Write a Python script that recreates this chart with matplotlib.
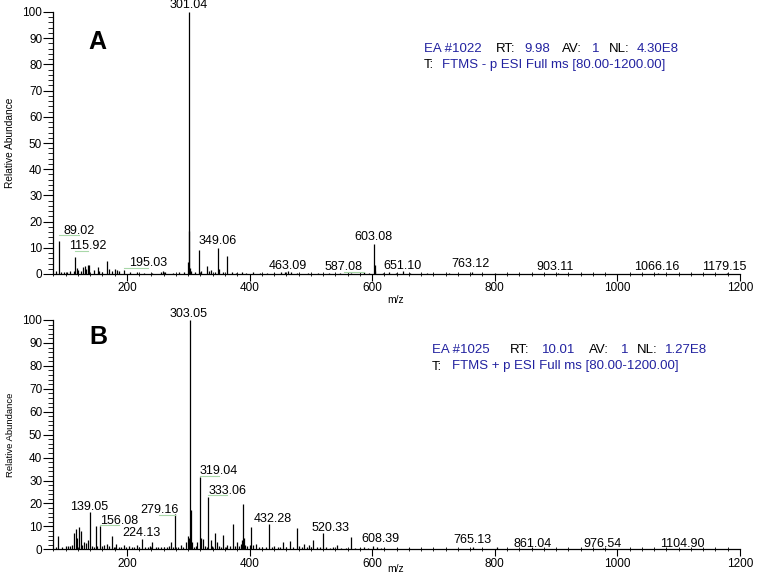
import numpy as np
import matplotlib
matplotlib.use('Agg')
import matplotlib.pyplot as plt
from matplotlib.ticker import MultipleLocator

plt.rcParams['font.family'] = ['Liberation Sans', 'DejaVu Sans']

# ---- panel A : negative ion spectrum (m/z, relative abundance) ----
mz_a = [84.0, 89.02, 92.5, 97.0, 103.0, 108.0, 113.5, 115.92, 118.0, 121.0,
        125.0, 129.0, 131.5, 133.0, 136.0, 139.0, 146.0, 153.0, 155.0, 160.0,
        167.8, 170.8, 176.0, 181.0, 184.0, 187.5, 195.03, 205.0, 216.0, 228.0,
        241.0, 255.0, 259.4, 262.0, 276.0, 285.0, 293.0, 299.0, 301.04, 302.05,
        303.05, 305.0, 311.0, 317.6, 321.0, 331.2, 333.5, 336.6, 343.0, 349.06,
        350.7, 357.0, 363.7, 371.0, 378.0, 387.0, 395.0, 405.0, 417.0, 428.0,
        440.0, 451.0, 458.0, 463.09, 467.0, 478.0, 495.0, 512.0, 530.0, 548.0,
        565.0, 587.08, 595.0, 603.08, 604.08, 605.1, 617.0, 628.0, 639.0, 651.10,
        662.0, 690.0, 725.0, 763.12, 800.0, 903.11, 1066.16, 1179.15]
int_a = [1.0, 12.5, 0.8, 0.6, 0.8, 1.0, 1.2, 6.5, 2.2, 1.5,
         1.2, 2.5, 3.0, 2.0, 3.5, 3.5, 1.5, 2.8, 1.2, 0.8,
         4.8, 2.0, 1.0, 1.8, 1.5, 1.2, 1.5, 0.6, 0.9, 0.5,
         0.5, 0.6, 1.0, 0.8, 0.5, 0.6, 0.7, 4.5, 100.0, 16.3,
         2.2, 1.0, 0.6, 9.3, 1.2, 3.0, 1.0, 1.5, 0.6, 10.0,
         2.0, 0.7, 7.0, 0.6, 0.5, 0.8, 0.5, 0.6, 0.5, 0.5,
         0.4, 0.6, 0.8, 1.0, 0.7, 0.4, 0.4, 0.4, 0.4, 0.4,
         0.4, 0.6, 0.5, 11.3, 3.5, 1.0, 0.5, 0.6, 0.5, 1.2,
         0.5, 0.4, 0.4, 0.8, 0.3, 0.4, 0.4, 0.3]

labels_a = ['89.02', '115.92', '195.03', '301.04', '349.06', '463.09', '587.08',
            '603.08', '651.10', '763.12', '903.11', '1066.16', '1179.15']
# where each label text sits (data coords)
lab_pos_a = [(122.7, 16.6), (137.0, 10.6), (234.0, 4.2), (301.0, 102.7), (348.6, 12.6),
             (462.6, 3.1), (554.0, 2.5), (602.0, 14.0), (649.0, 3.1), (760.6, 3.8),
             (898.8, 2.5), (1064.0, 2.5), (1175.0, 2.5)]

# ---- panel B : positive ion spectrum ----
mz_b = [84.0, 87.8, 95.0, 100.5, 104.0, 108.0, 111.0, 113.9, 116.6, 119.3,
        122.0, 124.8, 127.0, 130.0, 133.5, 136.8, 139.05, 143.0, 146.0, 149.0,
        152.0, 156.08, 160.0, 163.0, 168.0, 171.5, 175.3, 179.0, 182.0, 187.0,
        191.0, 195.7, 199.0, 203.6, 208.0, 212.0, 217.0, 220.5, 224.13, 229.0,
        234.0, 238.0, 241.6, 247.0, 251.0, 255.0, 260.0, 265.0, 269.0, 272.6,
        276.0, 279.16, 283.0, 287.8, 292.0, 296.0, 300.0, 301.5, 303.05, 304.06,
        306.9, 310.0, 313.0, 315.0, 319.04, 321.5, 324.8, 328.0, 331.0, 333.06,
        336.7, 339.0, 343.8, 346.5, 350.0, 353.0, 357.4, 361.0, 364.0, 368.0,
        373.0, 377.0, 380.0, 383.0, 385.7, 388.0, 389.5, 390.5, 392.0, 396.0,
        400.0, 403.0, 406.0, 410.0, 415.0, 421.0, 427.0, 432.28, 436.0, 440.0,
        446.0, 450.0, 455.2, 460.0, 466.0, 471.0, 477.0, 481.0, 485.0, 489.0,
        493.0, 497.0, 501.0, 504.0, 510.0, 515.0, 520.33, 525.0, 532.0, 537.0,
        542.0, 550.0, 558.0, 565.5, 572.0, 580.0, 586.7, 594.0, 601.9, 608.39,
        614.0, 620.0, 640.0, 660.0, 700.0, 740.0, 765.13, 785.0, 803.0, 861.04,
        976.54, 1104.90]
int_b = [1.2, 6.0, 1.0, 1.5, 1.3, 1.5, 2.0, 7.0, 8.7, 5.0,
         9.9, 8.0, 2.0, 3.3, 2.6, 4.0, 16.1, 1.5, 1.2, 10.3,
         1.5, 10.3, 1.5, 2.0, 2.5, 1.5, 5.8, 1.2, 2.5, 1.0,
         1.2, 2.0, 1.0, 1.5, 1.0, 1.2, 2.0, 1.0, 4.5, 1.2,
         1.0, 1.5, 3.0, 1.0, 1.2, 1.0, 0.8, 1.0, 1.5, 3.0,
         1.2, 15.4, 1.0, 2.0, 1.0, 3.0, 6.0, 5.0, 100.0, 17.0,
         3.0, 1.2, 1.5, 3.0, 31.5, 5.0, 4.5, 1.5, 1.2, 23.0,
         4.0, 1.5, 7.0, 3.0, 1.5, 1.0, 6.3, 1.2, 2.0, 1.5,
         11.0, 1.5, 3.0, 1.5, 2.5, 4.0, 19.8, 5.0, 2.0, 1.5,
         2.0, 9.6, 2.0, 2.5, 1.0, 1.0, 0.8, 11.2, 1.2, 1.5,
         0.8, 0.8, 3.0, 0.8, 3.5, 1.0, 9.5, 1.5, 0.8, 2.5,
         0.8, 2.0, 1.0, 4.0, 0.8, 0.8, 7.3, 0.8, 0.6, 0.8,
         2.0, 0.6, 0.6, 5.4, 0.6, 0.6, 1.0, 0.5, 1.5, 1.2,
         0.6, 0.5, 0.4, 0.4, 0.3, 0.3, 0.8, 0.3, 1.0, 0.4,
         0.4, 0.3]

labels_b = ['139.05', '156.08', '224.13', '279.16', '303.05', '319.04', '333.06',
            '432.28', '520.33', '608.39', '765.13', '861.04', '976.54', '1104.90']
lab_pos_b = [(138.5, 18.6), (187.4, 12.5), (223.3, 7.0), (252.6, 17.2), (301.3, 102.7),
             (350.5, 34.0), (364.0, 25.6), (437.4, 13.4), (532.5, 9.3), (614.0, 4.5),
             (764.0, 4.0), (861.4, 2.3), (976.0, 2.3), (1106.0, 2.3)]

blue = '#2222a0'
info_a = [('EA #1022', blue, 424, 52.5), ('RT:', 'black', 496, 52.5), ('9.98', blue, 524, 52.5),
          ('AV:', 'black', 562, 52.5), ('1', blue, 592, 52.5), ('NL:', 'black', 609, 52.5),
          ('4.30E8', blue, 637, 52.5), ('T:', 'black', 424, 68),
          ('FTMS - p ESI Full ms [80.00-1200.00]', blue, 442, 68)]
info_b = [('EA #1025', blue, 432, 353), ('RT:', 'black', 510, 353), ('10.01', blue, 542, 353),
          ('AV:', 'black', 589, 353), ('1', blue, 621, 353), ('NL:', 'black', 637, 353),
          ('1.27E8', blue, 665, 353), ('T:', 'black', 432, 369.5),
          ('FTMS + p ESI Full ms [80.00-1200.00]', blue, 452, 369.5)]

W, H = 758, 576
fig = plt.figure(figsize=(W / 100, H / 100), dpi=100)
axA = fig.add_axes([53.3 / W, 1 - 274 / H, (740 - 53.3) / W, 262 / H])
axB = fig.add_axes([53.3 / W, 1 - 549.3 / H, (740 - 53.3) / W, 229.3 / H])


def setup(ax):
    ax.set_xlim(80, 1200)
    ax.set_ylim(0, 100)
    for s in ['top', 'right']:
        ax.spines[s].set_visible(False)
    for s in ['left', 'bottom']:
        ax.spines[s].set_linewidth(0.9)
    ax.xaxis.set_major_locator(MultipleLocator(200))
    ax.xaxis.set_minor_locator(MultipleLocator(20))
    ax.yaxis.set_major_locator(MultipleLocator(10))
    ax.yaxis.set_minor_locator(MultipleLocator(2))
    ax.tick_params(axis='y', which='major', length=7, width=0.8, pad=1, labelsize=8.5)
    ax.tick_params(axis='y', which='minor', length=3.5, width=0.6)
    ax.tick_params(axis='x', which='major', length=5, width=0.8, pad=1, labelsize=8.5)
    ax.tick_params(axis='x', which='minor', length=3, width=0.6, direction='inout')


def spectrum(ax, mz, inten, labels, lab_pos, dy):
    ax.vlines(mz, 0, inten, color='black', lw=0.9)
    for lab, (lx, ly) in zip(labels, lab_pos):
        pk = float(lab)
        ax.text(lx, ly, lab, ha='center', va='center', fontsize=9, clip_on=False)
        if abs(lx - pk) > 18:
            ax.plot([pk, lx], [ly - dy, ly - dy], color='#a9d8a9', lw=0.8, clip_on=False)


setup(axA)
setup(axB)
spectrum(axA, mz_a, int_a, labels_a, lab_pos_a, 1.8)
spectrum(axB, mz_b, int_b, labels_b, lab_pos_b, 2.1)

fig.text(396 / W, 1 - 300 / H, 'm/z', fontsize=7.5, ha='center', va='center')
fig.text(396 / W, 1 - 569 / H, 'm/z', fontsize=7.5, ha='center', va='center')

fig.text(97 / W, 1 - 42 / H, 'A', fontsize=18, fontweight='bold', ha='center', va='center')
fig.text(98 / W, 1 - 337 / H, 'B', fontsize=18, fontweight='bold', ha='center', va='center')

fig.text(10.5 / W, 1 - 142.5 / H, 'Relative Abundance', rotation=90, fontsize=7.3,
         ha='center', va='center')
fig.text(10.5 / W, 1 - 435 / H, 'Relative Abundance', rotation=90, fontsize=6.8,
         ha='center', va='center')

for txt, col, px, py in info_a + info_b:
    fig.text(px / W, 1 - py / H, txt, color=col, fontsize=9.5, ha='left', va='baseline')

fig.savefig('out.png', dpi=100)
